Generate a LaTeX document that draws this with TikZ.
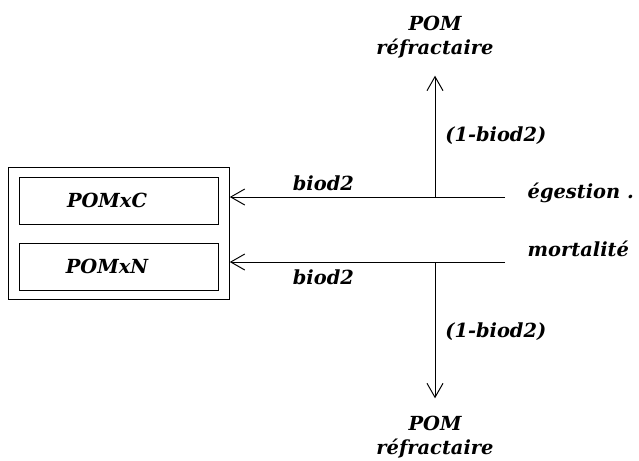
\documentclass[tikz,border=0pt]{standalone}
\usepackage{fontspec}
\setmainfont{DejaVu Serif}
\usepackage{tikz}
\usetikzlibrary{arrows.meta,positioning,fit}

\begin{document}
\begin{tikzpicture}[
  x=0.025cm, y=-0.025cm,
  lab/.style={font=\bfseries\itshape\fontsize{13.8}{17}\selectfont, inner sep=1pt},
  pool/.style={draw, line width=0.7pt, minimum width=4.95cm, minimum height=1.175cm, font=\bfseries\itshape\fontsize{13.8}{17}\selectfont},
  arr/.style={-{Straight Barb[length=3.5mm,width=4mm]}, line width=0.7pt}
]
\useasboundingbox (0,0) rectangle (639,461);
\node[pool] (pomxc) at (119,200.5) {POMxC\hspace*{0.6cm}};
\node[pool, below=0.45cm of pomxc] (pomxn) {POMxN\hspace*{0.6cm}};
\node[draw, line width=0.7pt, fit=(pomxc)(pomxn), inner xsep=0.27cm, inner ysep=0.22cm] (pomx) {};
\node[lab, anchor=west] (egest) at (526,193) {égestion .};
\node[lab, anchor=west] (mort) at (526,249) {mortalité};
\coordinate (egestend) at (505,197);
\coordinate (mortend) at (505,262);
\coordinate (jt) at (435,197);
\coordinate (jb) at (435,262);
\node[lab, align=center] (refrt) at (435,37) {POM\\réfractaire};
\node[lab, align=center] (refrb) at (435,437) {POM\\réfractaire};
\draw[arr] (egestend) -- (egestend -| pomx.east) node[lab, pos=0.66, above=3pt] {biod2};
\draw[arr] (mortend) -- (mortend -| pomx.east) node[lab, pos=0.66, below=4pt] {biod2};
\draw[arr, shorten >=0.4cm] (jt) -- (refrt.south) node[lab, pos=0.45, right=6pt] {(1-biod2)};
\draw[arr, shorten >=0.4cm] (jb) -- (refrb.north) node[lab, pos=0.46, right=6pt] {(1-biod2)};
\end{tikzpicture}
\end{document}
